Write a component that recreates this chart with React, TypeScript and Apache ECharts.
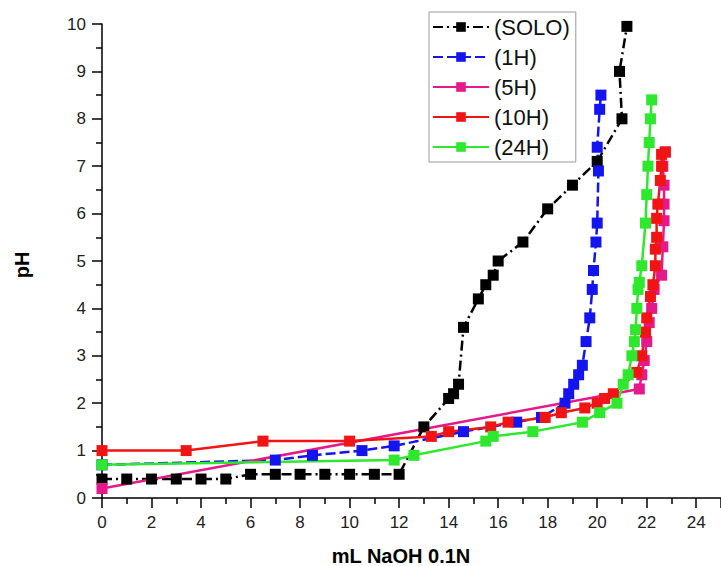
import React, { useEffect, useRef } from "react";
import * as echarts from "echarts";

// [mL NaOH, pH]
const solo: [number, number][] = [
  [0, 0.4], [1, 0.4], [2, 0.4], [3, 0.4], [4, 0.4], [5, 0.4], [6, 0.5], [7, 0.5], [8, 0.5],
  [9, 0.5], [10, 0.5], [11, 0.5], [12, 0.5], [13, 1.5], [14, 2.1], [14.2, 2.2], [14.4, 2.4],
  [14.6, 3.6], [15.2, 4.2], [15.5, 4.5], [15.8, 4.7], [16, 5.0], [17, 5.4], [18, 6.1],
  [19, 6.6], [20, 7.1], [21, 8.0], [20.9, 9.0], [21.2, 9.95],
];
const h1: [number, number][] = [
  [0, 0.7], [7, 0.8], [8.5, 0.9], [10.5, 1.0], [11.8, 1.1], [14.6, 1.4], [16.75, 1.6],
  [17.75, 1.7], [18.7, 2.0], [18.85, 2.2], [19.05, 2.4], [19.25, 2.6], [19.4, 2.8],
  [19.55, 3.3], [19.7, 3.8], [19.8, 4.4], [19.85, 4.8], [19.95, 5.4], [20.0, 5.8],
  [20.05, 6.9], [20.0, 7.4], [20.1, 8.2], [20.15, 8.5],
];
const h5: [number, number][] = [
  [0, 0.2], [21.7, 2.3], [21.8, 2.6], [21.9, 2.9], [22.0, 3.3], [22.1, 3.7], [22.2, 4.0],
  [22.3, 4.4], [22.6, 4.7], [22.65, 5.3], [22.7, 5.85], [22.7, 6.2], [22.7, 6.6],
  [22.65, 7.0], [22.75, 7.3],
];
const h10: [number, number][] = [
  [0, 1.0], [3.4, 1.0], [6.5, 1.2], [10, 1.2], [13.3, 1.3], [14, 1.4], [15.7, 1.5],
  [16.4, 1.6], [17.9, 1.7], [18.55, 1.8], [19.5, 1.9], [20.0, 2.0], [20.3, 2.1],
  [20.65, 2.2], [21.6, 2.65], [21.8, 3.0], [21.95, 3.5], [22.0, 3.8], [22.15, 4.25],
  [22.25, 4.5], [22.35, 4.9], [22.35, 5.25], [22.4, 5.5], [22.4, 5.9], [22.45, 6.2],
  [22.55, 6.7], [22.6, 7.0], [22.6, 7.25], [22.75, 7.3],
];
const h24: [number, number][] = [
  [0, 0.7], [11.8, 0.8], [12.6, 0.9], [15.5, 1.2], [15.8, 1.3], [17.4, 1.4], [19.4, 1.6],
  [20.1, 1.8], [20.8, 2.0], [21.05, 2.4], [21.25, 2.6], [21.4, 3.0], [21.5, 3.3],
  [21.55, 3.55], [21.6, 4.0], [21.65, 4.4], [21.7, 4.55], [21.8, 4.9], [21.95, 5.8],
  [22.0, 6.4], [22.05, 7.0], [22.1, 7.5], [22.15, 8.0], [22.2, 8.4],
];

const seriesNames = ["(SOLO)", "(1H)", "(5H)", "(10H)", "(24H)"];
const seriesColors = ["#000000", "#1414f0", "#e6198a", "#f01414", "#2ee82e"];
const seriesData = [solo, h1, h5, h10, h24];
const lineTypes: any[] = [[10, 4, 2, 4], [10, 4], "solid", "solid", "solid"];

const xTitle = "mL NaOH 0.1N";
const yTitle = "pH";

const FONT = "'Liberation Sans', Arial, sans-serif";

export default function App() {
  const ref = useRef<HTMLDivElement>(null);
  useEffect(() => {
    if (!ref.current) return;
    const chart = echarts.init(ref.current, undefined, { renderer: "svg" });
    chart.setOption({
      animation: false,
      backgroundColor: "#ffffff",
      grid: { left: 102, right: -2, top: 24, bottom: 68, containLabel: false },
      xAxis: {
        type: "value",
        min: 0,
        max: 25,
        interval: 2,
        splitLine: { show: false },
        axisLine: { onZero: false, lineStyle: { color: "#000", width: 1.5 } },
        axisTick: { length: 10, lineStyle: { color: "#000", width: 1.5 } },
        minorTick: { show: true, splitNumber: 2, length: 6, lineStyle: { color: "#000", width: 1.5 } },
        axisLabel: { color: "#222", fontSize: 17, fontFamily: FONT, margin: 16, showMaxLabel: false },
      },
      yAxis: {
        type: "value",
        min: 0,
        max: 10,
        interval: 1,
        splitLine: { show: false },
        axisLine: { show: true, onZero: false, lineStyle: { color: "#000", width: 1.5 } },
        axisTick: { show: true, length: 10, lineStyle: { color: "#000", width: 1.5 } },
        minorTick: { show: true, splitNumber: 2, length: 6, lineStyle: { color: "#000", width: 1.5 } },
        axisLabel: { color: "#222", fontSize: 17, fontFamily: FONT, margin: 16 },
      },
      legend: {
        orient: "vertical",
        left: 429,
        top: 12,
        data: seriesNames,
        itemWidth: 56,
        itemHeight: 12,
        itemGap: 8,
        padding: [4, 6, 4, 3],
        borderColor: "#9a9a9a",
        borderWidth: 1,
        textStyle: { fontSize: 22, fontFamily: FONT, color: "#111", lineHeight: 20 },
      },
      graphic: [
        {
          type: "text",
          x: 22,
          y: 265,
          rotation: Math.PI / 2,
          style: {
            text: yTitle,
            fontSize: 20,
            fontWeight: "bold",
            fontFamily: FONT,
            fill: "#000",
            align: "center",
            verticalAlign: "middle",
          },
        },
        {
          type: "text",
          x: 401,
          y: 556,
          style: {
            text: xTitle,
            fontSize: 20,
            fontWeight: "bold",
            fontFamily: FONT,
            fill: "#000",
            align: "center",
            verticalAlign: "middle",
          },
        },
      ],
      series: seriesData.map((d, i) => ({
        name: seriesNames[i],
        type: "line",
        data: d,
        symbol: "rect",
        symbolSize: 11,
        clip: false,
        itemStyle: { color: seriesColors[i] },
        lineStyle: { color: seriesColors[i], width: 2.5, type: lineTypes[i] },
      })),
    });
    return () => chart.dispose();
  }, []);
  return (
    <div
      ref={ref}
      style={{ position: "fixed", left: 0, top: 0, width: 721, height: 566, background: "#fff" }}
    />
  );
}
